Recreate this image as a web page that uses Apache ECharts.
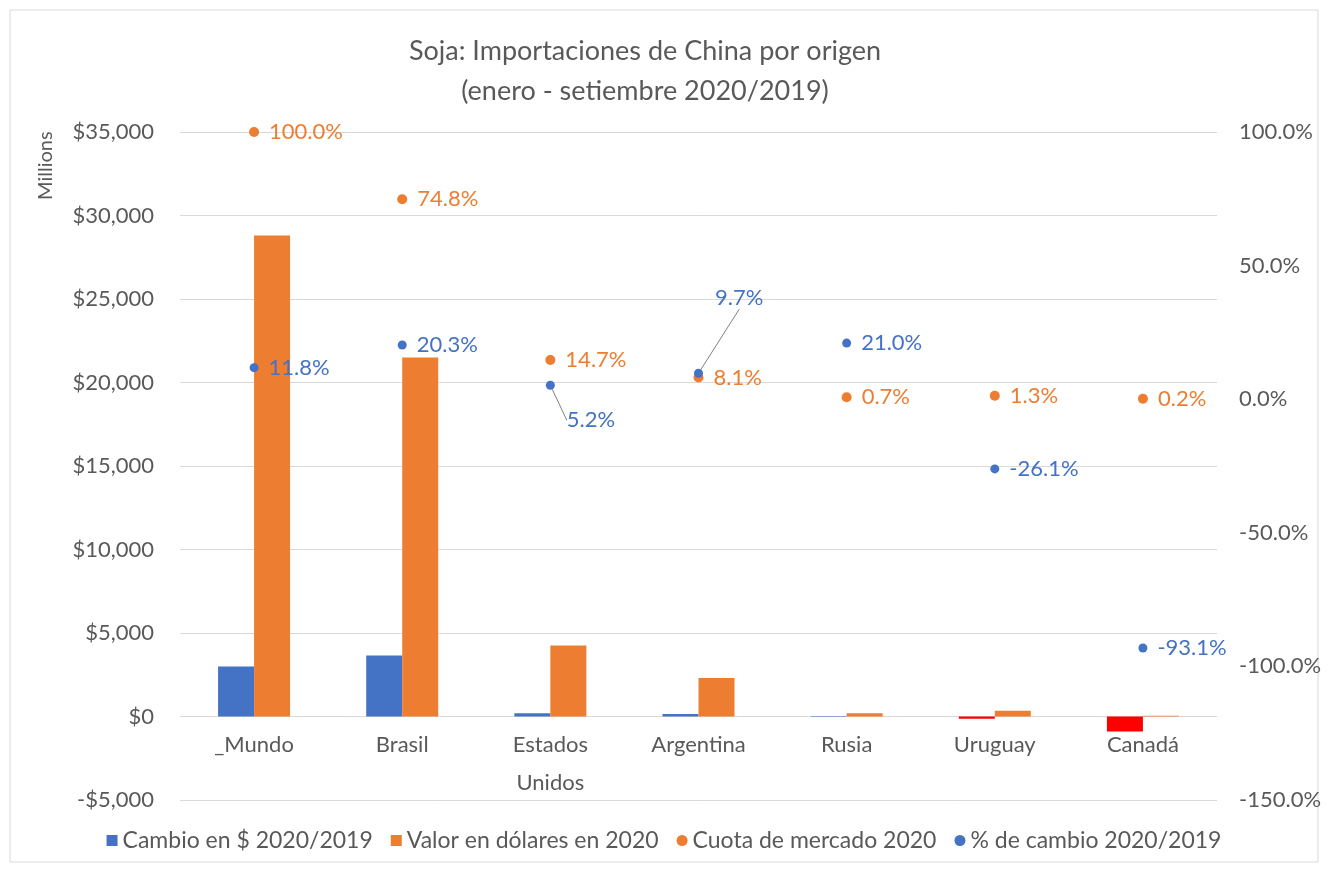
<!DOCTYPE html>
<html>
<head>
<meta charset="utf-8">
<script src="https://cdn.jsdelivr.net/npm/echarts@6/dist/echarts.min.js"></script>
<style>
  html, body { margin: 0; padding: 0; background: #fff; }
  #main { width: 1328px; height: 871px; }
</style>
</head>
<body>
<div id="main"></div>
<script>
// datos: importaciones de soja de China
var paises = ['_Mundo', 'Brasil', 'Estados\nUnidos', 'Argentina', 'Rusia', 'Uruguay', 'Canadá'];
var cambioUsd = [3000, 3650, 200, 150, 30, -130, -900];
var valor2020 = [28800, 21500, 4250, 2300, 200, 350, 40];
var cuota2020 = [100.0, 74.8, 14.7, 8.1, 0.7, 1.3, 0.2];
var pctCambio = [11.8, 20.3, 5.2, 9.7, 21.0, -26.1, -93.1];

var AZUL = '#4472C4';
var NARANJA = '#ED7D31';
var ROJO = '#FF0000';
var GRIS = '#595959';
var FONT = 'Lato';

var chart = echarts.init(document.getElementById('main'));

function usd(v) {
  var s = Math.abs(v).toLocaleString('en-US');
  return (v < 0 ? '-$' : '$') + s;
}

var cambioData = cambioUsd.map(function (v) {
  return v < 0 ? { value: v, itemStyle: { color: ROJO } } : v;
});

// etiquetas con linea guia (EE.UU. y Argentina)
var pctData = pctCambio.map(function (v, i) {
  if (i === 2 || i === 3) return { value: v, labelLine: { show: true } };
  return v;
});

var option = {
  backgroundColor: '#fff',
  textStyle: { fontFamily: FONT },
  title: {
    text: 'Soja: Importaciones de China por origen\n(enero - setiembre 2020/2019)',
    left: 640,
    top: 26,
    textAlign: 'center',
    textStyle: { fontFamily: FONT, fontSize: 27, fontWeight: 'normal', color: GRIS, lineHeight: 40 }
  },
  graphic: [
    {
      type: 'rect',
      shape: { x: 10, y: 10, width: 1308, height: 852 },
      style: { fill: 'none', stroke: '#d9d9d9', lineWidth: 1 }
    },
    {
      type: 'text',
      x: 36, y: 200,
      rotation: Math.PI / 2,
      style: { text: 'Millions', fontFamily: FONT, fontSize: 20, fill: GRIS }
    }
  ],
  legend: {
    bottom: 14,
    left: 'center',
    itemGap: 18,
    itemWidth: 11,
    itemHeight: 11,
    textStyle: { fontFamily: FONT, fontSize: 23, color: GRIS },
    data: [
      { name: 'Cambio en $ 2020/2019', icon: 'rect' },
      { name: 'Valor en dólares en 2020', icon: 'rect' },
      { name: 'Cuota de mercado 2020', icon: 'circle', itemStyle: { color: NARANJA } },
      { name: '% de cambio 2020/2019', icon: 'circle', itemStyle: { color: AZUL } }
    ]
  },
  grid: { left: 180, right: 111, top: 132, bottom: 71 },
  xAxis: {
    type: 'category',
    data: paises,
    position: 'bottom',
    axisLine: { onZero: false, show: false },
    axisTick: { show: false },
    axisLabel: {
      fontFamily: FONT, fontSize: 22, color: GRIS, lineHeight: 38,
      margin: 0, padding: [-74, 0, 0, 0], verticalAlign: 'top'
    }
  },
  yAxis: [
    {
      type: 'value',
      min: -5000, max: 35000, interval: 5000,
      axisLine: { show: false },
      axisTick: { show: false },
      splitLine: { lineStyle: { color: '#d9d9d9' } },
      axisLabel: { fontFamily: FONT, fontSize: 22, color: GRIS, margin: 26, formatter: usd }
    },
    {
      type: 'value',
      min: -150, max: 100, interval: 50,
      axisLine: { show: false },
      axisTick: { show: false },
      splitLine: { show: false },
      axisLabel: {
        fontFamily: FONT, fontSize: 22, color: GRIS, margin: 22,
        formatter: function (v) { return v.toFixed(1) + '%'; }
      }
    }
  ],
  series: [
    {
      name: 'Cambio en $ 2020/2019',
      type: 'bar',
      data: cambioData,
      barWidth: 36,
      barGap: '0%',
      itemStyle: { color: AZUL }
    },
    {
      name: 'Valor en dólares en 2020',
      type: 'bar',
      data: valor2020,
      barWidth: 36,
      itemStyle: { color: NARANJA }
    },
    {
      name: 'Cuota de mercado 2020',
      type: 'scatter',
      yAxisIndex: 1,
      data: cuota2020,
      symbolSize: 10,
      itemStyle: { color: NARANJA, opacity: 1 },
      label: {
        show: true, position: 'right', distance: 10,
        fontFamily: FONT, fontSize: 22, color: NARANJA,
        formatter: function (p) { return p.value.toFixed(1) + '%'; }
      }
    },
    {
      name: '% de cambio 2020/2019',
      type: 'scatter',
      yAxisIndex: 1,
      data: pctData,
      symbolSize: 9,
      z: 3,
      itemStyle: { color: AZUL, opacity: 1 },
      label: {
        show: true, position: 'right', distance: 10,
        fontFamily: FONT, fontSize: 22, color: AZUL,
        formatter: function (p) { return p.value.toFixed(1) + '%'; }
      },
      labelLine: { show: false, lineStyle: { color: '#7f7f7f', width: 1 } },
      labelLayout: function (p) {
        if (p.dataIndex === 2) return { dx: 2, dy: 35 };
        if (p.dataIndex === 3) return { dx: 2, dy: -75 };
        return {};
      }
    }
  ]
};

chart.setOption(option);
</script>
</body>
</html>
